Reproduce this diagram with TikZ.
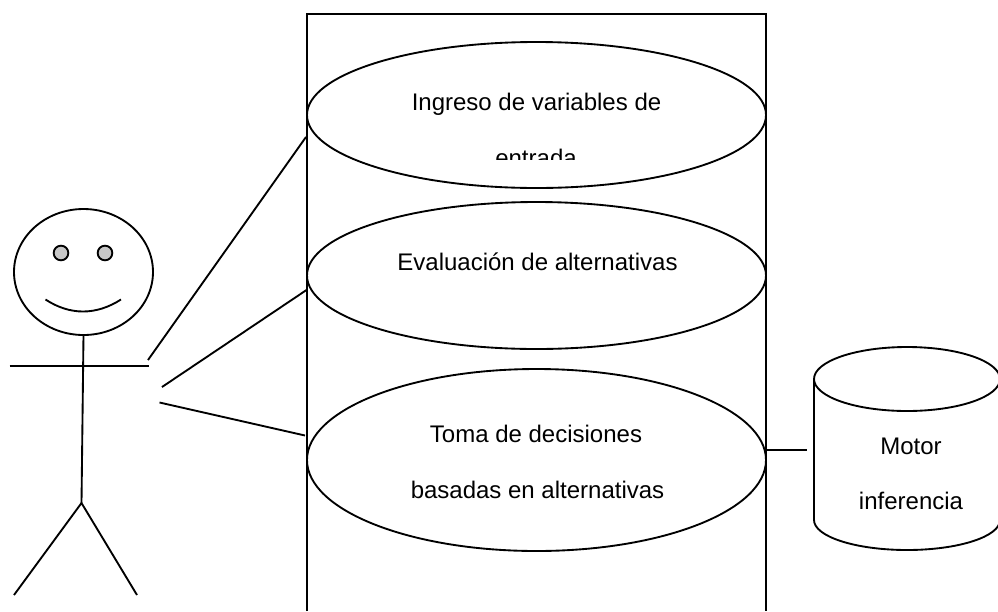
\documentclass[tikz,border=0pt]{standalone}
\usepackage{fontspec}
\setmainfont{Liberation Sans}
\usetikzlibrary{shapes.geometric}
\tikzset{
  ln/.style={draw=black,line width=1.4pt,line cap=butt},
  ucase/.style={ellipse,draw=black,line width=1.4pt,inner sep=0pt,outer sep=0pt,minimum width=344.25pt},
  lab/.style={anchor=base,inner sep=0pt,outer sep=0pt,font=\fontsize{18pt}{20pt}\selectfont,text=black},
  eye/.style={circle,draw=black,fill=black!22,line width=1.4pt,inner sep=0pt,outer sep=0pt,minimum size=11pt}
}
\begin{document}
\begin{tikzpicture}[x=0.75pt,y=-0.75pt]
\useasboundingbox (0,0) rectangle (998,611);
% system boundary
\coordinate (rbl) at (307,611);
\coordinate (rtl) at (307,14);
\coordinate (rtr) at (766,14);
\coordinate (rbr) at (766,611);
\draw[ln] (rbl) -- (rtl) -- (rtr) -- (rbr);
% use cases
\node[ucase,minimum height=109.5pt] (u1) at (536.5,115) {};
\node[ucase,minimum height=110.25pt] (u2) at (536.5,275.5) {};
\node[ucase,minimum height=136.5pt] (u3) at (536.5,460) {};
\node[lab] (t1a) at (536.5,110.5) {Ingreso de variables de};
\begin{scope}
\clip (400,130) rectangle (680,159);
\node[lab] (t1b) at (536,166) {entrada};
\end{scope}
\node[lab] (t2) at (537.5,270) {Evaluación de alternativas};
\node[lab] (t3a) at (536,442) {Toma de decisiones};
\node[lab] (t3b) at (537.5,498) {basadas en alternativas};
% actor
\node[ellipse,draw=black,line width=1.4pt,inner sep=0pt,outer sep=0pt,minimum width=104.25pt,minimum height=94.5pt] (head) at (83.5,272) {};
\node[eye] (eyeL) at (61,253) {};
\node[eye] (eyeR) at (105,253) {};
\coordinate (smileL) at (45.5,299.5);
\coordinate (smileR) at (121,299.5);
\draw[ln] (smileL) .. controls (70,315.5) and (96,315.5) .. (smileR);
\coordinate (hip) at (81.5,503);
\coordinate (armL) at (9.5,366);
\coordinate (armR) at (149,366);
\coordinate (footL) at (14,595);
\coordinate (footR) at (137,595);
\draw[ln] (head.south) -- (hip);
\draw[ln] (armL) -- (armR);
\draw[ln] (footL) -- (hip) -- (footR);
% connectors
\coordinate (c1a) at (148,360);
\coordinate (c1b) at (306,137);
\coordinate (c2a) at (162,387);
\coordinate (c2b) at (306.5,290);
\coordinate (c3a) at (159.5,402.5);
\coordinate (c3b) at (305,435.5);
\draw[ln] (c1a) -- (c1b);
\draw[ln] (c2a) -- (c2b);
\draw[ln] (c3a) -- (c3b);
% database
\begin{scope}
\clip (800,340) rectangle (998,560);
\draw[ln] (814,379) -- (814,520) arc[start angle=180,end angle=0,x radius=93,y radius=30] -- (1000,379);
\draw[ln,fill=white] (907,379) ellipse[x radius=93,y radius=32];
\end{scope}
\coordinate (dbin) at (807,450);
\draw[ln] (766,450) -- (dbin);
\node[lab] (m1) at (911,454.5) {Motor};
\node[lab] (m2) at (911,509.5) {inferencia};
\end{tikzpicture}
\end{document}
